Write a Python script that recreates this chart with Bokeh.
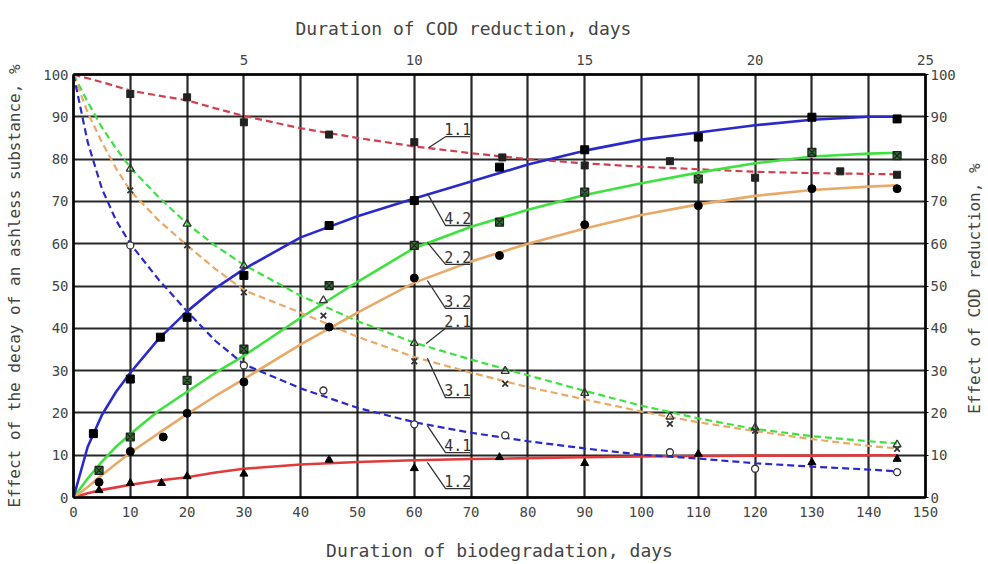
import math
from bokeh.plotting import figure
from bokeh.layouts import row
from bokeh.models import Range1d, LinearAxis, FixedTicker
from bokeh.core.properties import value
from bokeh.embed import file_html
from bokeh.resources import INLINE

# ---------------- data ----------------
x_ticks = [0, 10, 20, 30, 40, 50, 60, 70, 80, 90, 100, 110, 120, 130, 140, 150]
y_ticks = [0, 10, 20, 30, 40, 50, 60, 70, 80, 90, 100]
top_ticks = [5, 10, 15, 20, 25]

# smooth fitted curves, read at these abscissae
curve_x = [0, 2.5, 5, 7.5, 10, 15, 20, 25, 30, 40, 50, 60, 70, 80, 90, 100, 110, 120, 130, 140, 145]
curve_11 = [100, 99.1, 98.2, 97.2, 96.2, 95.0, 93.9, 92.0, 90.2, 87.3, 85.0, 83.0, 81.4, 80.0, 79.0, 78.2, 77.6, 77.0, 76.7, 76.5, 76.4]
curve_12 = [0, 1.0, 1.8, 2.4, 3.0, 4.0, 4.8, 5.9, 6.8, 7.8, 8.4, 8.8, 9.1, 9.3, 9.5, 9.7, 9.8, 9.9, 9.9, 10.0, 10.0]
curve_21 = [100, 93.5, 87.5, 82.5, 78.0, 71.0, 64.7, 59.5, 55.0, 47.7, 41.7, 36.6, 32.6, 28.9, 25.2, 21.7, 18.7, 16.2, 14.5, 13.3, 12.8]
curve_22 = [0, 4.5, 8.5, 12.0, 15.0, 20.5, 25.0, 29.5, 33.5, 42.5, 51.0, 59.0, 64.0, 68.0, 71.5, 74.3, 76.8, 79.0, 80.6, 81.3, 81.5]
curve_31 = [100, 91.0, 84.0, 77.8, 72.5, 65.5, 59.6, 54.0, 49.0, 43.7, 38.0, 33.2, 29.5, 26.1, 23.2, 20.3, 17.8, 15.7, 13.8, 12.2, 11.6]
curve_32 = [0, 2.5, 5.3, 8.0, 10.6, 15.2, 19.7, 24.0, 28.0, 36.2, 43.7, 50.8, 55.8, 60.0, 63.6, 66.8, 69.3, 71.3, 72.7, 73.5, 73.8]
curve_41 = [100, 84.0, 73.0, 65.5, 60.0, 51.5, 44.0, 37.0, 31.5, 25.8, 21.2, 17.8, 15.3, 13.3, 11.6, 10.1, 9.2, 8.1, 7.3, 6.6, 6.2]
curve_42 = [0, 12.0, 19.5, 25.0, 29.5, 37.5, 44.0, 49.5, 54.0, 61.5, 66.5, 70.7, 74.7, 78.7, 82.0, 84.6, 86.3, 88.0, 89.3, 90.0, 90.0]

# measured points
pts_11_x = [10, 20, 30, 45, 60, 75.5, 90, 105, 120, 135, 145]
pts_11_y = [95.4, 94.6, 88.7, 85.8, 84.0, 80.4, 78.5, 79.5, 75.6, 77.1, 76.3]
pts_12_x = [4.5, 10, 15.5, 20, 30, 45, 60, 75, 90, 110, 130, 145]
pts_12_y = [1.7, 3.4, 3.4, 5.0, 5.6, 8.9, 6.9, 9.5, 8.1, 10.3, 8.3, 9.1]
pts_21_x = [10, 20, 30, 44, 60, 76, 90, 105, 120, 145]
pts_21_y = [77.7, 64.7, 54.8, 46.6, 36.5, 29.9, 24.7, 19.1, 16.5, 12.5]
pts_22_x = [4.5, 10, 20, 30, 45, 60, 75, 90, 110, 130, 145]
pts_22_y = [6.4, 14.3, 27.7, 35.1, 50.1, 59.6, 65.1, 72.2, 75.3, 81.6, 80.8]
pts_31_x = [10, 20, 30, 44, 60, 76, 105, 120, 145]
pts_31_y = [72.6, 59.6, 48.5, 43.0, 32.2, 26.9, 17.4, 15.8, 11.5]
pts_32_x = [4.5, 10, 15.8, 20, 30, 45, 60, 75, 90, 110, 130, 145]
pts_32_y = [3.6, 10.9, 14.3, 19.9, 27.3, 40.3, 51.9, 57.2, 64.5, 69.0, 73.0, 73.0]
pts_41_x = [10, 30, 44, 60, 76, 105, 120, 145]
pts_41_y = [59.6, 31.2, 25.3, 17.3, 14.7, 10.7, 6.8, 6.0]
pts_42_x = [3.5, 10, 15.3, 20, 30, 45, 60, 75, 90, 110, 130, 145]
pts_42_y = [15.1, 28.0, 37.9, 42.6, 52.5, 64.3, 70.2, 78.1, 82.2, 85.2, 89.9, 89.5]

curve_labels = ["1.1", "4.2", "2.2", "3.2", "2.1", "3.1", "4.1", "1.2"]
right_title = ["Effect of COD reduction, %"]

# ---------------- layout / styles ----------------
FONT = "DejaVu Sans Mono"
RED = "#e23a3a"
RED_D = "#d0404e"
BLUE = "#2a2acc"
GREEN = "#3ee23e"
ORANGE = "#e9aa68"
TXT = "#444444"

# leader-line geometry for the curve labels (curve point, underline level)
lead_cx = [62.5, 62.3, 62.3, 62.3, 62.1, 62.3, 62.3, 62.3]
lead_cy = [82.7, 71.9, 60.3, 51.3, 36.4, 32.9, 17.0, 8.3]
lead_uy = [85.3, 64.3, 55.1, 44.7, 40.0, 23.6, 10.6, 2.1]
lead_x0 = 65.5
lead_x1 = 69.8

p = figure(width=960, height=564, x_range=Range1d(0, 150), y_range=Range1d(0, 100),
           output_backend="svg", toolbar_location=None,
           min_border_left=73, min_border_right=35, min_border_top=74, min_border_bottom=67)
p.extra_x_ranges = {"cod": Range1d(0, 25)}

bottom = p.below[0]
left = p.left[0]

p.background_fill_color = "white"
p.outline_line_color = "black"
p.outline_line_width = 2

for g, t in ((p.xgrid, x_ticks), (p.ygrid, y_ticks)):
    g.ticker = FixedTicker(ticks=t)
    g.grid_line_color = "#111111"
    g.grid_line_width = 2.2
    g.grid_line_alpha = 0.9

bottom.ticker = FixedTicker(ticks=x_ticks)
left.ticker = FixedTicker(ticks=y_ticks)

top = LinearAxis(x_range_name="cod", ticker=FixedTicker(ticks=top_ticks))
right = LinearAxis(ticker=FixedTicker(ticks=y_ticks))
p.add_layout(top, "above")
p.add_layout(right, "right")

bottom.axis_label = "Duration of biodegradation, days"
left.axis_label = "Effect of the decay of an ashless substance, %"

for ax in (bottom, left, top, right):
    ax.axis_line_color = "black"
    ax.axis_line_width = 2.5
    ax.major_tick_line_color = "black"
    ax.major_tick_in = 0
    ax.major_tick_out = 0
    ax.minor_tick_line_color = None
    ax.major_label_text_font = FONT
    ax.major_label_text_font_size = "14px"
    ax.major_label_text_color = TXT
    ax.axis_label_text_font = FONT
    ax.axis_label_text_font_style = "normal"
    ax.axis_label_text_color = TXT
    ax.axis_label_text_font_size = "18px"
    ax.major_label_standoff = 6

left.major_label_standoff = 5
left.axis_label_standoff = 16
left.axis_label_text_font_size = "16px"
right.major_tick_out = 3
right.major_label_standoff = 2
bottom.major_label_standoff = 9
bottom.axis_label_standoff = 20
top.major_label_standoff = 10

# title of the upper (COD) axis
p.title.text = "Duration of COD reduction, days"
p.title.align = "left"
p.title.offset = 222
p.title.standoff = 25
p.title.text_font = FONT
p.title.text_font_style = "normal"
p.title.text_font_size = "18px"
p.title.text_color = TXT

# ---------------- curves ----------------
DASH = "7 4"
p.line(curve_x, curve_11, line_color=RED_D, line_width=2.2, line_dash=DASH)
p.line(curve_x, curve_12, line_color=RED, line_width=2.6)
p.line(curve_x, curve_21, line_color=GREEN, line_width=2.2, line_dash=DASH)
p.line(curve_x, curve_22, line_color=GREEN, line_width=2.6)
p.line(curve_x, curve_31, line_color=ORANGE, line_width=2.2, line_dash=DASH)
p.line(curve_x, curve_32, line_color=ORANGE, line_width=2.6)
p.line(curve_x, curve_41, line_color=BLUE, line_width=2.2, line_dash=DASH)
p.line(curve_x, curve_42, line_color=BLUE, line_width=2.6)

# ---------------- markers ----------------
p.scatter(pts_11_x, pts_11_y, marker="square_x", size=7, fill_color="#222222", line_color="#222222")
p.scatter(pts_12_x, pts_12_y, marker="triangle", size=8, fill_color="black", line_color="black")
p.scatter(pts_21_x, pts_21_y, marker="triangle", size=8, fill_color=None, line_color="#333333", line_width=1.3)
p.scatter(pts_22_x, pts_22_y, marker="square_x", size=8, fill_color="#2f6f2f", line_color="#222222", line_width=1.2)
p.scatter(pts_31_x, pts_31_y, marker="x", size=8, line_color="#333333", line_width=1.8)
p.scatter(pts_32_x, pts_32_y, marker="circle", size=8, fill_color="black", line_color="black")
p.scatter(pts_41_x, pts_41_y, marker="circle", size=7, fill_color="white", line_color="#333333", line_width=1.3)
p.scatter(pts_42_x, pts_42_y, marker="square", size=8, fill_color="black", line_color="black")

# ---------------- curve labels with leaders ----------------
for cx, cy, uy in zip(lead_cx, lead_cy, lead_uy):
    p.line([cx, lead_x0, lead_x1], [cy, uy, uy], line_color="#333333", line_width=1.3)
p.text(x=[(lead_x0 + lead_x1) / 2] * len(curve_labels), y=[u + 0.4 for u in lead_uy], text=curve_labels,
       text_font=value(FONT), text_font_size="15px", text_color="#333333",
       text_align="center", text_baseline="bottom")

# ---------------- strip holding the right-hand axis title (reads bottom to top) ----------------
q = figure(width=28, height=564, x_range=Range1d(0, 1), y_range=Range1d(0, 564),
           output_backend="svg", toolbar_location=None, min_border=0)
q.axis.visible = False
q.grid.visible = False
q.outline_line_color = None
q.text(x=[0.5], y=[564 - 285.5], text=right_title, angle=math.pi / 2,
       text_font=value(FONT), text_font_size="16px", text_color=TXT,
       text_align="center", text_baseline="middle")

layout = row(p, q, spacing=0)
open("out.html", "w").write(file_html(layout, INLINE))
